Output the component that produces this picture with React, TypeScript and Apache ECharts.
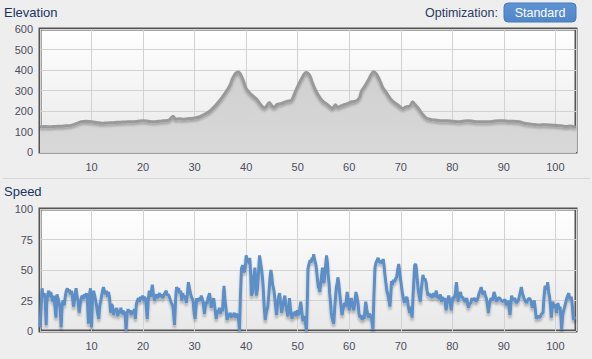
import React, { useEffect, useRef } from "react";
import * as echarts from "echarts";

const xTicks = [10, 20, 30, 40, 50, 60, 70, 80, 90, 100];
const elevationTicks = [0, 100, 200, 300, 400, 500, 600];
const speedTicks = [0, 25, 50, 75, 100];

const elevationPoints: [number, number][] = [
  [0, 122], [1, 124], [2, 123], [3, 125], [4, 126], [5, 128], [6, 130], [7, 138], [8, 148], [9, 150],
  [10, 148], [11, 144], [12, 140], [13, 142], [14, 143], [15, 145], [16, 146], [17, 147], [18, 148], [19, 150],
  [20, 152], [21, 150], [22, 148], [23, 150], [24, 152], [25, 155], [25.8, 175], [26.3, 160], [27, 162], [28, 160],
  [29, 163], [30, 166], [31, 172], [32, 185], [33, 200], [34, 225], [35, 255], [36, 290], [36.8, 322], [37.4, 360],
  [38, 385], [38.5, 390], [39, 375], [39.5, 345], [40, 310], [41, 280], [42, 258], [43, 225], [43.6, 215], [44, 225],
  [44.5, 242], [45, 225], [45.5, 218], [46, 232], [47, 238], [48, 248], [48.8, 252], [49.4, 285], [50, 320], [50.8, 360],
  [51.6, 388], [52.3, 375], [52.9, 335], [53.5, 300], [54.3, 265], [55, 245], [55.6, 235], [56.2, 222], [56.8, 212], [57.3, 230],
  [57.8, 218], [58.4, 225], [59.5, 235], [60.5, 245], [61.4, 250], [62, 265], [62.4, 298], [63, 320], [63.8, 355], [64.7, 392],
  [65.3, 380], [66, 345], [66.5, 315], [67.2, 290], [67.9, 263], [68.6, 245], [69.5, 228], [70.4, 212], [71, 220], [71.8, 225],
  [72.3, 245], [72.8, 230], [73.5, 210], [74.2, 185], [75, 165], [76, 158], [77, 155], [78, 152], [79, 153], [80, 150],
  [81, 148], [82, 150], [83, 152], [84, 150], [85, 148], [86, 147], [87, 148], [88, 150], [89, 152], [90, 153],
  [91, 150], [92, 150], [93, 148], [94, 140], [95, 137], [96, 134], [97, 132], [98, 133], [99, 132], [100, 130],
  [101, 128], [102, 125], [103, 127], [104, 120],
];

const speedPoints: [number, number][] = [
  [0.0, 3], [0.2, 18], [0.4, 35], [0.6, 28], [0.8, 31], [1.0, 26], [1.2, 5], [1.3, 22], [1.5, 30], [1.7, 33],
  [1.9, 28], [2.1, 32], [2.3, 27], [2.5, 24], [2.7, 29], [2.9, 20], [3.1, 11], [3.3, 30], [3.5, 27], [3.7, 23],
  [3.9, 19], [4.1, 3], [4.3, 22], [4.5, 25], [4.7, 21], [4.9, 28], [5.1, 33], [5.3, 35], [5.5, 32], [5.7, 34],
  [5.9, 30], [6.1, 33], [6.3, 28], [6.5, 20], [6.6, 22], [6.8, 30], [7.0, 35], [7.2, 28], [7.4, 24], [7.6, 15],
  [7.8, 22], [8.0, 27], [8.2, 29], [8.4, 26], [8.6, 30], [8.8, 28], [9.0, 31], [9.2, 25], [9.4, 6], [9.6, 30],
  [9.8, 35], [10.0, 3], [10.2, 28], [10.4, 33], [10.6, 29], [10.8, 25], [11.0, 20], [11.2, 14], [11.4, 10], [11.6, 21],
  [11.8, 25], [12.0, 30], [12.3, 36], [12.5, 33], [12.7, 30], [12.9, 33], [13.1, 28], [13.3, 32], [13.5, 27], [13.7, 15],
  [13.9, 22], [14.1, 20], [14.3, 13], [14.5, 18], [14.7, 16], [14.9, 19], [15.1, 12], [15.3, 17], [15.5, 15], [15.7, 19],
  [15.9, 14], [16.1, 17], [16.3, 13], [16.5, 16], [16.7, 0], [16.9, 14], [17.1, 18], [17.3, 15], [17.5, 17], [17.7, 13],
  [17.9, 16], [18.1, 15], [18.3, 18], [18.5, 10], [18.7, 22], [18.9, 25], [19.1, 27], [19.3, 24], [19.5, 28], [19.7, 26],
  [19.9, 29], [20.1, 25], [20.3, 28], [20.5, 26], [20.8, 10], [21.0, 25], [21.2, 33], [21.4, 28], [21.6, 32], [21.8, 38],
  [22.0, 30], [22.2, 25], [22.4, 28], [22.6, 30], [22.8, 27], [23.0, 29], [23.2, 31], [23.4, 28], [23.6, 30], [23.8, 27],
  [24.0, 29], [24.2, 31], [24.5, 33], [24.7, 29], [24.9, 30], [25.1, 28], [25.4, 24], [25.8, 20], [26.1, 5], [26.3, 25],
  [26.5, 36], [26.7, 34], [26.9, 35], [27.1, 31], [27.3, 33], [27.5, 25], [27.7, 31], [27.9, 27], [28.1, 29], [28.4, 23],
  [28.6, 30], [28.8, 40], [29.0, 35], [29.3, 29], [29.5, 27], [29.7, 25], [29.9, 15], [30.1, 10], [30.4, 27], [30.6, 24],
  [30.9, 27], [31.1, 25], [31.3, 29], [31.5, 26], [31.7, 22], [31.9, 14], [32.2, 24], [32.4, 22], [32.6, 27], [32.9, 31],
  [33.1, 25], [33.2, 19], [33.4, 22], [33.7, 27], [33.9, 20], [34.2, 10], [34.4, 17], [34.6, 15], [34.8, 19], [35.0, 14],
  [35.2, 18], [35.4, 16], [35.7, 37], [35.9, 25], [36.1, 18], [36.3, 9], [36.5, 14], [36.7, 12], [36.9, 15], [37.1, 11],
  [37.3, 14], [37.5, 12], [37.7, 15], [37.9, 11], [38.1, 14], [38.3, 13], [38.5, 12], [38.7, 0], [38.9, 30], [39.1, 51],
  [39.3, 54], [39.5, 50], [39.7, 48], [39.9, 56], [40.0, 62], [40.2, 58], [40.4, 58], [40.6, 55], [40.7, 60], [40.9, 45],
  [41.0, 29], [41.2, 31], [41.3, 32], [41.5, 45], [41.7, 52], [41.9, 40], [42.0, 29], [42.2, 35], [42.3, 41], [42.5, 55],
  [42.6, 62], [42.8, 56], [43.0, 50], [43.2, 42], [43.3, 36], [43.5, 20], [43.7, 9], [43.9, 15], [44.2, 20], [44.4, 30],
  [44.6, 42], [44.8, 50], [45.0, 44], [45.1, 39], [45.3, 35], [45.4, 33], [45.6, 25], [45.9, 13], [46.1, 22], [46.3, 28],
  [46.5, 31], [46.7, 22], [46.9, 15], [47.1, 20], [47.3, 25], [47.5, 29], [47.7, 22], [47.9, 16], [48.1, 12], [48.3, 20],
  [48.4, 27], [48.6, 18], [48.9, 10], [49.1, 15], [49.3, 13], [49.5, 16], [49.7, 12], [49.9, 17], [50.1, 13], [50.3, 15],
  [50.6, 24], [50.8, 16], [51.0, 8], [51.2, 12], [51.4, 10], [51.7, 0], [51.9, 30], [52.0, 51], [52.2, 55], [52.4, 58],
  [52.6, 56], [52.8, 60], [53.0, 59], [53.1, 63], [53.3, 58], [53.5, 55], [53.6, 52], [53.8, 44], [54.0, 36], [54.2, 35],
  [54.3, 32], [54.5, 40], [54.8, 52], [55.0, 45], [55.1, 39], [55.3, 48], [55.6, 62], [55.8, 55], [55.9, 47], [56.1, 38],
  [56.2, 31], [56.4, 22], [56.5, 15], [56.7, 10], [57.0, 6], [57.2, 20], [57.5, 36], [57.7, 40], [57.8, 44], [58.0, 38],
  [58.1, 33], [58.3, 25], [58.6, 13], [58.8, 18], [59.1, 23], [59.3, 20], [59.6, 32], [59.8, 25], [60.0, 17], [60.2, 21],
  [60.4, 27], [60.6, 22], [60.9, 17], [61.1, 24], [61.3, 32], [61.5, 28], [61.7, 23], [61.9, 14], [62.1, 11], [62.3, 13],
  [62.5, 9], [62.7, 12], [62.9, 10], [63.2, 24], [63.4, 18], [63.7, 11], [63.9, 14], [64.2, 12], [64.4, 8], [64.6, 1],
  [64.8, 30], [65.0, 52], [65.2, 56], [65.4, 58], [65.6, 60], [65.8, 57], [66.0, 56], [66.2, 58], [66.4, 55], [66.6, 59],
  [66.8, 52], [66.9, 47], [67.1, 40], [67.3, 33], [67.5, 30], [67.7, 25], [67.9, 20], [68.1, 32], [68.2, 41], [68.4, 38],
  [68.6, 42], [68.8, 40], [69.0, 43], [69.2, 44], [69.4, 50], [69.6, 55], [69.8, 48], [69.9, 44], [70.1, 38], [70.3, 31],
  [70.5, 27], [70.7, 23], [70.9, 26], [71.2, 28], [71.4, 22], [71.7, 15], [71.9, 20], [72.2, 11], [72.4, 30], [72.7, 54],
  [72.9, 55], [73.0, 52], [73.2, 42], [73.4, 33], [73.6, 28], [73.8, 24], [74.0, 35], [74.3, 46], [74.5, 42], [74.7, 43],
  [74.9, 40], [75.1, 33], [75.3, 29], [75.5, 31], [75.7, 28], [75.9, 30], [76.1, 27], [76.3, 31], [76.5, 28], [76.7, 30],
  [76.9, 33], [77.1, 27], [77.3, 29], [77.5, 26], [77.7, 30], [77.9, 24], [78.1, 28], [78.3, 25], [78.5, 27], [78.8, 17],
  [79.0, 24], [79.3, 29], [79.5, 25], [79.8, 17], [80.1, 28], [80.3, 26], [80.6, 31], [80.8, 40], [81.0, 30], [81.1, 24],
  [81.3, 29], [81.6, 32], [81.8, 27], [82.0, 28], [82.3, 25], [82.5, 24], [82.8, 27], [83.1, 19], [83.3, 22], [83.6, 23],
  [83.8, 27], [84.0, 25], [84.3, 27], [84.6, 24], [84.9, 26], [85.2, 31], [85.4, 33], [85.6, 36], [85.9, 30], [86.2, 33],
  [86.4, 29], [86.6, 27], [86.8, 22], [87.0, 15], [87.2, 22], [87.5, 27], [87.8, 25], [88.1, 32], [88.3, 29], [88.6, 24],
  [88.9, 27], [89.2, 27], [89.5, 25], [89.9, 24], [90.2, 26], [90.5, 21], [90.8, 25], [91.0, 19], [91.2, 13], [91.5, 29],
  [91.8, 25], [92.1, 27], [92.4, 23], [92.8, 25], [93.1, 30], [93.4, 36], [93.6, 31], [93.9, 27], [94.1, 25], [94.4, 23],
  [94.7, 26], [95.0, 27], [95.3, 24], [95.5, 19], [95.7, 23], [95.9, 25], [96.1, 18], [96.3, 10], [96.6, 12], [97.0, 11],
  [97.3, 14], [97.6, 15], [97.8, 28], [98.0, 37], [98.3, 34], [98.5, 40], [98.7, 32], [98.9, 27], [99.1, 18], [99.2, 11],
  [99.4, 20], [99.5, 24], [99.8, 19], [100.0, 22], [100.2, 15], [100.5, 23], [100.7, 18], [100.9, 20], [101.1, 10], [101.2, 1],
  [101.4, 12], [101.5, 15], [101.8, 20], [102.0, 23], [102.2, 27], [102.4, 29], [102.6, 31], [102.8, 26], [103.1, 28], [103.3, 20],
  [103.5, 9], [103.8, 12],
];

const FONT = 'Arial, "Liberation Sans", sans-serif';

export default function App() {
  const ref = useRef<HTMLDivElement>(null);

  useEffect(() => {
    if (!ref.current) return;
    const chart = echarts.init(ref.current, null, { renderer: "svg" });

    const plotBg = new echarts.graphic.LinearGradient(0, 0, 0, 1, [
      { offset: 0, color: "#ffffff" },
      { offset: 1, color: "#e8e8e8" },
    ]);

    const xAxisBase = (gridIndex: number) => ({
      type: "value" as const,
      gridIndex,
      min: 0,
      max: 104,
      interval: 10,
      axisLine: { show: false },
      axisTick: { show: false },
      splitLine: { show: true, lineStyle: { color: "#d2d2d2", width: 1 } },
      axisLabel: {
        color: "#4d4d5c",
        fontSize: 11,
        fontFamily: FONT,
        margin: 9,
        showMaxLabel: false,
        formatter: (v: number) => (xTicks.includes(v) ? String(v) : ""),
      },
    });

    const yAxisBase = (gridIndex: number, ticks: number[]) => ({
      type: "value" as const,
      gridIndex,
      min: ticks[0],
      max: ticks[ticks.length - 1],
      interval: ticks[1] - ticks[0],
      axisLine: { show: false },
      axisTick: { show: false },
      splitLine: { show: true, lineStyle: { color: "#d2d2d2", width: 1 } },
      axisLabel: {
        color: "#4d4d5c",
        fontSize: 11,
        fontFamily: FONT,
        margin: 7,
      },
    });

    chart.setOption({
      animation: false,
      backgroundColor: "#eeeeee",
      grid: [
        {
          left: 40,
          top: 29,
          width: 536,
          height: 123,
          show: true,
          backgroundColor: plotBg,
          borderColor: "#555555",
          borderWidth: 3,
        },
        {
          left: 40,
          top: 209,
          width: 536,
          height: 122,
          show: true,
          backgroundColor: plotBg,
          borderColor: "#555555",
          borderWidth: 3,
        },
      ],
      xAxis: [xAxisBase(0), xAxisBase(1)],
      yAxis: [yAxisBase(0, elevationTicks), yAxisBase(1, speedTicks)],
      series: [
        {
          type: "line",
          xAxisIndex: 0,
          yAxisIndex: 0,
          data: elevationPoints,
          showSymbol: false,
          smooth: 0.3,
          lineStyle: {
            color: "#999999",
            width: 3,
            shadowColor: "rgba(0,0,0,0.25)",
            shadowBlur: 2,
            shadowOffsetY: 2,
          },
          areaStyle: {
            color: new echarts.graphic.LinearGradient(0, 0, 0, 1, [
              { offset: 0, color: "#d0d0d0" },
              { offset: 1, color: "#d8d8d8" },
            ]),
            opacity: 1,
          },
          z: 3,
        },
        {
          type: "line",
          xAxisIndex: 1,
          yAxisIndex: 1,
          data: speedPoints,
          showSymbol: false,
          lineStyle: {
            color: "#5d8fc6",
            width: 3,
            shadowColor: "rgba(0,0,0,0.25)",
            shadowBlur: 2,
            shadowOffsetY: 3,
          },
          z: 3,
        },
      ],
      graphic: [
        {
          type: "text",
          left: 4,
          top: 6,
          style: { text: "Elevation", fill: "#1b3462", fontSize: 13, fontFamily: FONT },
        },
        {
          type: "text",
          left: 4,
          top: 185,
          style: { text: "Speed", fill: "#1b3462", fontSize: 13, fontFamily: FONT },
        },
        {
          type: "line",
          shape: { x1: 3, y1: 178.5, x2: 590, y2: 178.5 },
          style: { stroke: "#d6d6d6", lineWidth: 1 },
        },
        {
          type: "text",
          left: 425,
          top: 6,
          style: { text: "Optimization:", fill: "#2b3a5e", fontSize: 12.5, fontFamily: FONT },
        },
        {
          type: "rect",
          shape: { x: 504, y: 3, width: 72, height: 19, r: 4 },
          style: {
            fill: new echarts.graphic.LinearGradient(0, 0, 0, 1, [
              { offset: 0, color: "#5e93d4" },
              { offset: 1, color: "#5186c8" },
            ]),
            stroke: "#4a7bb8",
            lineWidth: 1,
          },
        },
        {
          type: "text",
          x: 540,
          y: 12.5,
          style: {
            text: "Standard",
            fill: "#ffffff",
            fontSize: 12.5,
            fontFamily: FONT,
            align: "center",
            verticalAlign: "middle",
          },
          z: 10,
        },
      ],
    });

    return () => chart.dispose();
  }, []);

  return (
    <div
      ref={ref}
      style={{ position: "fixed", left: 0, top: 0, width: 592, height: 359 }}
    />
  );
}
